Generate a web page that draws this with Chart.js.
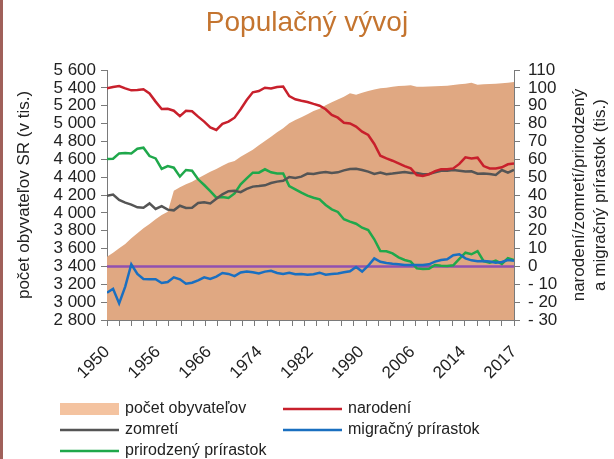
<!DOCTYPE html>
<html lang="sk">
<head>
    <meta charset="UTF-8">
    <title>Populačný vývoj</title>
    <script src="https://cdn.jsdelivr.net/npm/chart.js@4.4.0/dist/chart.umd.min.js"></script>
    <style>
        html, body { margin: 0; padding: 0; background: #fff; }
        .wrap { position: relative; width: 614px; height: 459px; }
        .edge { position: absolute; left: 0; top: 0; width: 3px; height: 459px; background: #a0605a; }
    </style>
</head>
<body>
<div class="wrap">
    <canvas id="popChart" width="614" height="459"></canvas>
    <div class="edge"></div>
</div>
<script>
    var years = [1950, 1951, 1952, 1953, 1954, 1955, 1956, 1957, 1958, 1959,
        1960, 1961, 1962, 1963, 1964, 1965, 1966, 1967, 1968, 1969,
        1970, 1971, 1972, 1973, 1974, 1975, 1976, 1977, 1978, 1979,
        1980, 1981, 1982, 1983, 1984, 1985, 1986, 1987, 1988, 1989,
        1990, 1991, 1992, 1993, 1994, 1995, 1996, 1997, 1998, 1999,
        2000, 2001, 2002, 2003, 2004, 2005, 2006, 2007, 2008, 2009,
        2010, 2011, 2012, 2013, 2014, 2015, 2016, 2017];

    // pocet obyvatelov (tis.)
    var population = [3509, 3554, 3603, 3651, 3715, 3771, 3827, 3875, 3928, 3976,
        4013, 4249, 4286, 4320, 4349, 4387, 4424, 4461, 4491, 4529,
        4562, 4580, 4628, 4667, 4708, 4756, 4805, 4853, 4902, 4947,
        5003, 5040, 5070, 5104, 5141, 5167, 5204, 5238, 5271, 5301,
        5339, 5324, 5346, 5365, 5383, 5396, 5402, 5413, 5421, 5425,
        5428, 5413, 5413, 5415, 5417, 5421, 5425, 5432, 5440, 5447,
        5458, 5436, 5440, 5443, 5447, 5451, 5458, 5466];

    var births = [99.7, 100.5, 101, 99.7, 98.6, 98.8, 99.2, 96.9, 92.3, 88.2,
        88.3, 87.2, 84.2, 87.2, 86.9, 83.9, 81.1, 77.9, 76.4, 79.8,
        81.1, 83.3, 88, 93.2, 97.5, 98.2, 100.1, 99.7, 100.5, 100.7,
        95.4, 93.6, 92.8, 92.1, 91, 90, 88, 84.8, 83.3, 80.5,
        80.1, 78.3, 75.5, 73.6, 68.6, 62, 60.5, 59.2, 57.7, 56.2,
        54.9, 51.2, 50.6, 51.6, 53.4, 54.4, 54.4, 54.9, 57.4, 61.1,
        60.5, 60.9, 56.2, 54.9, 54.9, 55.5, 57.2, 57.7];

    var deaths = [39.6, 40.2, 37.2, 35.7, 34.6, 33.1, 32.9, 35.3, 32.2, 33.8,
        31.8, 31.4, 34, 32.7, 32.9, 35.5, 35.9, 35.3, 37.9, 40.4,
        42.1, 42.4, 41.6, 43.4, 44.7, 45, 45.4, 46.7, 47.5, 48,
        50.1, 49.5, 50.3, 52, 51.8, 52.5, 52.9, 52.3, 52.7, 53.8,
        54.6, 54.7, 54, 53.1, 51.8, 52.6, 51.6, 52, 52.5, 52.9,
        52.3, 52.3, 51.6, 51.8, 52.7, 53.6, 53.6, 54, 53.6, 53.1,
        53.3, 51.9, 52.1, 51.8, 51.2, 54, 52.5, 54];

    var migration = [-14.7, -12.5, -20.7, -11.3, 1.2, -4.2, -7, -7.2, -7.2, -9.3,
        -8.7, -6.1, -7.2, -9.7, -9.1, -7.8, -6.1, -7, -5.7, -3.7,
        -4.2, -5.4, -3.4, -2.9, -3.3, -3.9, -2.9, -2.4, -3.7, -4.2,
        -3.5, -4.4, -4.2, -4.6, -4.4, -3.5, -4.6, -4.2, -3.9, -3.3,
        -2.7, -0.3, -2.9, 0.4, 4.5, 2.6, 1.9, 1.5, 1.2, 0.8,
        0.8, 0.8, 0.8, 1.2, 2.7, 3.6, 4, 6.3, 6.8, 4.5,
        3.4, 2.9, 3, 2.7, 2.1, 2.5, 3.6, 3.2];

    var naturalIncrease = [60.2, 60.3, 63.3, 63.5, 63.3, 65.9, 66.5, 61.8, 60.5, 54.6,
        56.2, 55.3, 50.3, 54, 53.6, 48.8, 45.6, 42.2, 38.5, 38.9,
        38.3, 40.9, 46, 49.3, 52.5, 52.5, 54.4, 52.7, 52.1, 52.1,
        45, 43.2, 41.3, 39.6, 38.5, 37.6, 34.4, 32, 30.5, 26.4,
        25.1, 23.9, 21.7, 20.4, 15.2, 8.6, 8.5, 7.3, 5.1, 3.6,
        2.7, -1.1, -1.4, -1.3, 0.8, 0.4, 0.2, 0.6, 4.2, 7.7,
        6.8, 8.6, 3, 2.1, 3.2, 1.4, 4.6, 3.6];

    var xTickLabels = ['1950', '1956', '1966', '1974', '1982', '1990', '2006', '2014', '2017'];

    var FONT = 'Liberation Sans, Arial, sans-serif';
    var TEXT = '#222222';
    var AXIS = '#7a7a7a';

    function pairs(values) {
        return values.map(function (v, i) { return { x: years[i], y: v }; });
    }

    function spaceThousands(v) {
        if (v >= 1000) {
            var rest = String(v % 1000);
            while (rest.length < 3) rest = '0' + rest;
            return Math.floor(v / 1000) + ' ' + rest;
        }
        return String(v);
    }

    // fialova nulova ciara nad plochou obyvatelov
    var zeroLine = {
        id: 'zeroLine',
        afterDatasetDraw: function (chart, args) {
            if (args.index !== 0) return;
            var ctx = chart.ctx;
            var y = chart.scales.y1.getPixelForValue(0);
            ctx.save();
            ctx.strokeStyle = '#9150b0';
            ctx.lineWidth = 2.5;
            ctx.beginPath();
            ctx.moveTo(chart.chartArea.left, y);
            ctx.lineTo(chart.chartArea.right, y);
            ctx.stroke();
            ctx.restore();
        }
    };

    // pravy nadpis osi a legenda v dvoch stlpcoch
    var extras = {
        id: 'extras',
        afterDraw: function (chart) {
            var ctx = chart.ctx;
            var area = chart.chartArea;
            var midY = (area.top + area.bottom) / 2;
            ctx.save();
            ctx.fillStyle = TEXT;
            ctx.font = '17px ' + FONT;
            ctx.textAlign = 'center';
            ctx.textBaseline = 'middle';
            var lines = ['narodení/zomretí/prirodzený', 'a migračný prírastok (tis.)'];
            var xs = [579, 600];
            for (var i = 0; i < lines.length; i++) {
                ctx.save();
                ctx.translate(xs[i], midY);
                ctx.rotate(-Math.PI / 2);
                ctx.fillText(lines[i], 0, 0);
                ctx.restore();
            }

            var cols = [60, 283];
            var rows = [409, 430, 451];
            ctx.font = '16px ' + FONT;
            ctx.textAlign = 'left';
            chart.data.datasets.forEach(function (ds, i) {
                var x = cols[i % 2];
                var y = rows[Math.floor(i / 2)];
                if (ds.fill) {
                    ctx.fillStyle = '#f4c3a0';
                    ctx.fillRect(x, y - 6, 59, 12);
                } else {
                    ctx.strokeStyle = ds.borderColor;
                    ctx.lineWidth = 2.5;
                    ctx.beginPath();
                    ctx.moveTo(x, y);
                    ctx.lineTo(x + 59, y);
                    ctx.stroke();
                }
                ctx.fillStyle = TEXT;
                ctx.fillText(ds.label, x + 65, y);
            });
            ctx.restore();
        }
    };

    var ctx = document.getElementById('popChart').getContext('2d');
    var popChart = new Chart(ctx, {
        type: 'line',
        data: {
            datasets: [{
                label: 'počet obyvateľov',
                data: pairs(population),
                yAxisID: 'y',
                order: 10,
                fill: 'start',
                backgroundColor: '#e0a882',
                borderWidth: 0,
                pointRadius: 0
            }, {
                label: 'narodení',
                data: pairs(births),
                yAxisID: 'y1',
                order: 1,
                borderColor: '#c8202c',
                borderWidth: 2.5,
                pointRadius: 0,
                fill: false
            }, {
                label: 'zomretí',
                data: pairs(deaths),
                yAxisID: 'y1',
                order: 2,
                borderColor: '#555555',
                borderWidth: 2.5,
                pointRadius: 0,
                fill: false
            }, {
                label: 'migračný prírastok',
                data: pairs(migration),
                yAxisID: 'y1',
                order: 3,
                borderColor: '#1a6fc0',
                borderWidth: 2.5,
                pointRadius: 0,
                fill: false
            }, {
                label: 'prirodzený prírastok',
                data: pairs(naturalIncrease),
                yAxisID: 'y1',
                order: 4,
                borderColor: '#1fa84b',
                borderWidth: 2.5,
                pointRadius: 0,
                fill: false
            }]
        },
        options: {
            responsive: false,
            animation: false,
            devicePixelRatio: 1,
            layout: { padding: { top: 0, bottom: 73, left: 0, right: 0 } },
            elements: { line: { tension: 0 } },
            plugins: {
                legend: { display: false },
                tooltip: { enabled: false },
                title: {
                    display: true,
                    text: 'Populačný vývoj',
                    color: '#c4742f',
                    font: { size: 28, family: FONT, weight: 'normal' },
                    padding: { top: 6, bottom: 30.4 }
                }
            },
            scales: {
                x: {
                    type: 'linear',
                    position: 'bottom',
                    min: 1950,
                    max: 2017,
                    weight: 0,
                    afterBuildTicks: function (scale) {
                        var t = [];
                        for (var k = 0; k <= 33; k++) t.push({ value: 1950 + k * 67 / 33 });
                        scale.ticks = t;
                    },
                    afterFit: function (scale) { scale.height = 6; },
                    ticks: { display: false },
                    grid: { drawOnChartArea: false, tickLength: 6, color: AXIS },
                    border: { color: AXIS }
                },
                x2: {
                    type: 'linear',
                    position: 'bottom',
                    min: 1950,
                    max: 2017,
                    weight: 1,
                    afterBuildTicks: function (scale) {
                        var t = [];
                        for (var k = 0; k < xTickLabels.length; k++) {
                            t.push({ value: 1950 + k * 67 / (xTickLabels.length - 1) });
                        }
                        scale.ticks = t;
                    },
                    afterFit: function (scale) { scale.height = 60; },
                    ticks: {
                        autoSkip: false,
                        minRotation: 45,
                        maxRotation: 45,
                        padding: 16,
                        color: TEXT,
                        font: { size: 17, family: FONT },
                        callback: function (v, i) { return xTickLabels[i]; }
                    },
                    grid: { display: false, drawTicks: false },
                    border: { display: false }
                },
                y: {
                    position: 'left',
                    min: 2800,
                    max: 5600,
                    afterFit: function (scale) { scale.width = 107; },
                    ticks: {
                        stepSize: 200,
                        autoSkip: false,
                        padding: 5,
                        color: TEXT,
                        font: { size: 17, family: FONT },
                        callback: function (v) { return spaceThousands(v); }
                    },
                    grid: { drawOnChartArea: false, tickLength: 6, color: AXIS },
                    border: { color: AXIS },
                    title: {
                        display: true,
                        text: 'počet obyvateľov SR (v tis.)',
                        color: TEXT,
                        font: { size: 17, family: FONT },
                        padding: { top: 14, bottom: 0 }
                    }
                },
                y1: {
                    position: 'right',
                    min: -30,
                    max: 110,
                    afterFit: function (scale) { scale.width = 100; },
                    ticks: {
                        stepSize: 10,
                        autoSkip: false,
                        padding: 8,
                        color: TEXT,
                        font: { size: 17, family: FONT },
                        callback: function (v) { return v < 0 ? '- ' + (-v) : String(v); }
                    },
                    grid: { drawOnChartArea: false, tickLength: 6, color: AXIS },
                    border: { color: AXIS }
                }
            }
        },
        plugins: [zeroLine, extras]
    });
</script>
</body>
</html>
